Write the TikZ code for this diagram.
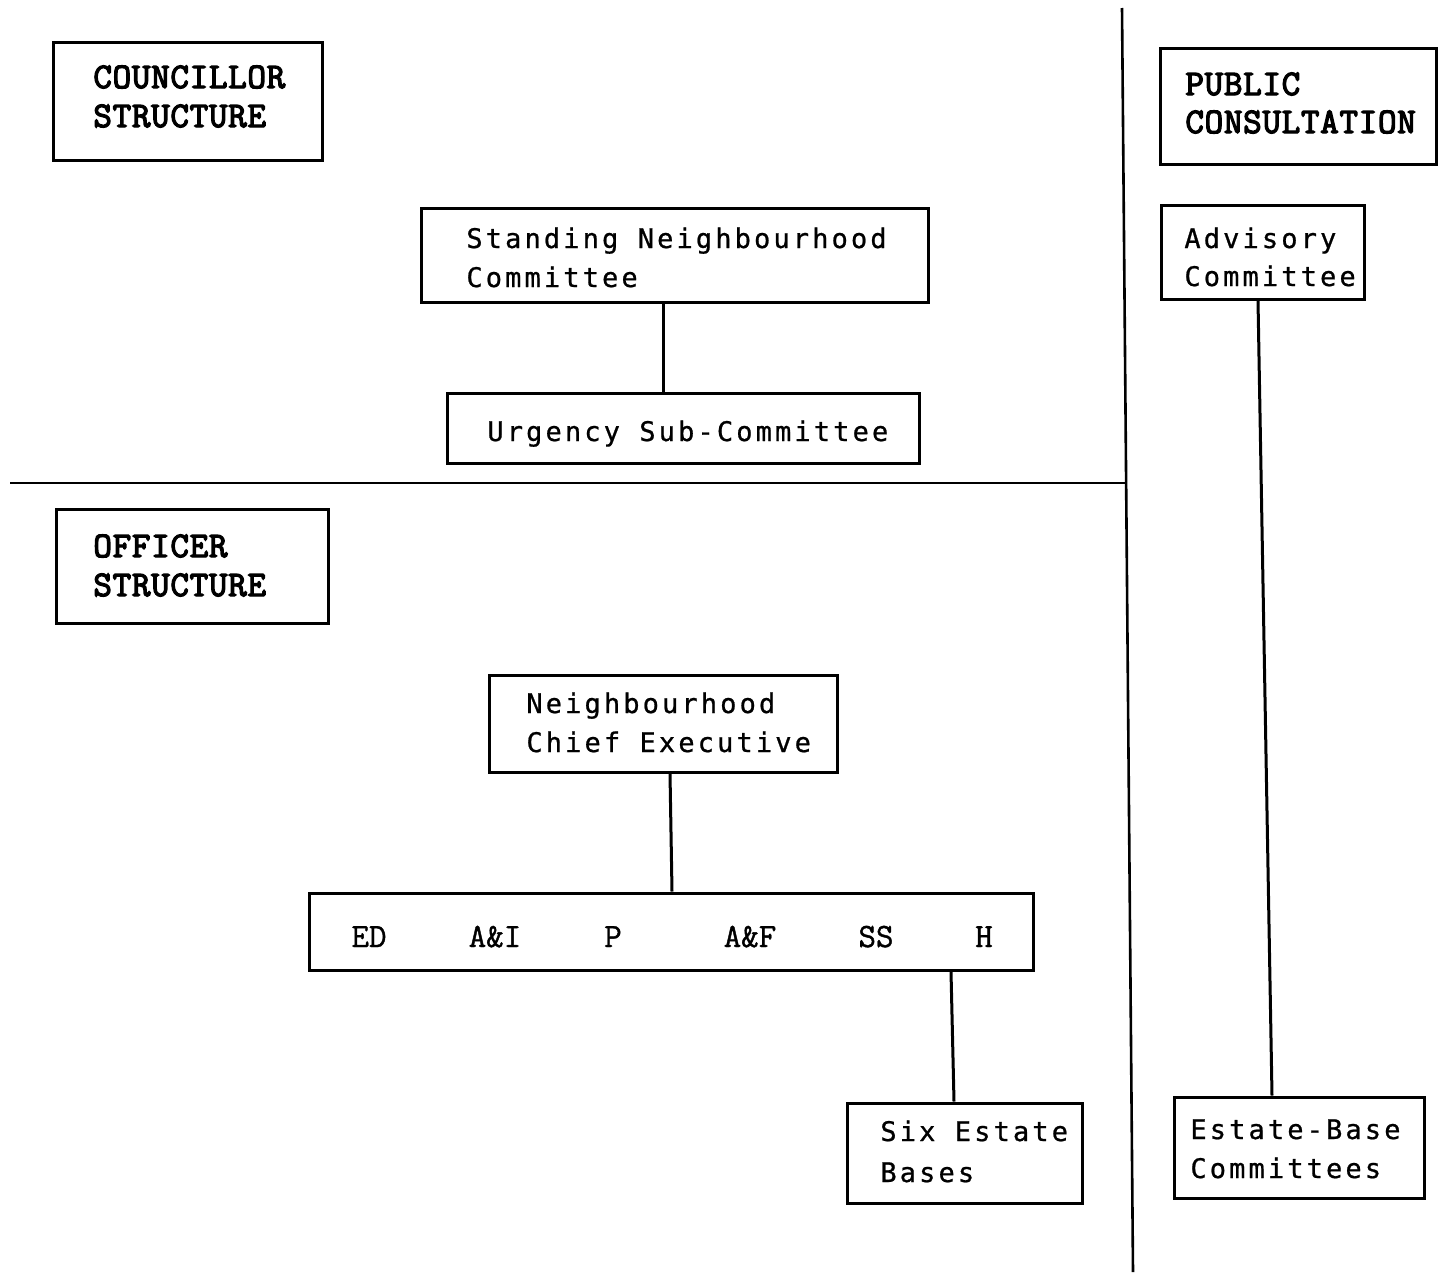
\documentclass[tikz,border=0pt]{standalone}
\usepackage{fontspec}
\newfontfamily\bodyfont[LetterSpace=11.6,FakeBold=0.8]{DejaVu Sans Mono}
\newfontfamily\headfont[LetterSpace=2,FakeBold=3.6]{Latin Modern Mono}
\newfontfamily\deptfont[FakeBold=1.2]{Latin Modern Mono}
\begin{document}
\begin{tikzpicture}[x=0.5pt,y=-0.5pt,
  box/.style={draw, line width=1.5pt, rectangle, inner sep=0pt},
  txt/.style={anchor=base west, inner sep=0pt, font=\bodyfont\fontsize{13.5}{16}\selectfont},
  head/.style={anchor=base west, inner sep=0pt, font=\headfont\fontsize{18}{20}\selectfont},
  dept/.style={anchor=base, inner sep=0pt, font=\deptfont\fontsize{17}{19}\selectfont},
  link/.style={line width=1.5pt},
  rule/.style={line width=1.3pt}]
\useasboundingbox (0,0) rectangle (1440,1274);

% dividing rules
\coordinate (vtop) at (1122,8);
\coordinate (vbot) at (1133,1272);
\coordinate (hl) at (10,483);
\coordinate (hr) at (1125,483);
\draw[rule] (vtop) -- (vbot);
\draw[rule] (hl) -- (hr);

% boxes
\node[box, minimum width=134.5pt, minimum height=59pt] (cs) at (187.5,101) {};
\node[box, minimum width=138pt, minimum height=58pt] (pc) at (1298,106) {};
\node[box, minimum width=253.5pt, minimum height=47pt] (snc) at (674.5,255) {};
\node[box, minimum width=236pt, minimum height=35pt] (usc) at (683,428) {};
\node[box, minimum width=136pt, minimum height=57pt] (os) at (192,566) {};
\node[box, minimum width=101.5pt, minimum height=47pt] (adv) at (1262.5,252) {};
\node[box, minimum width=125pt, minimum height=50.5pt] (ebc) at (1299,1147.5) {};
\node[box, minimum width=174pt, minimum height=48.5pt] (nce) at (663,723.5) {};
\node[box, minimum width=362pt, minimum height=38.5pt] (dept) at (671,931.5) {};
\node[box, minimum width=117.5pt, minimum height=50pt] (six) at (964.5,1153) {};

% box texts
\node[head] (cs1) at (93,88) {COUNCILLOR};
\node[head] (cs2) at (93,127) {STRUCTURE};
\node[head] (pc1) at (1185,95) {PUBLIC};
\node[head] (pc2) at (1185,133) {CONSULTATION};
\node[head] (os1) at (93,557) {OFFICER};
\node[head] (os2) at (93,596) {STRUCTURE};

\node[txt] (snc1) at (466,248) {Standing Neighbourhood};
\node[txt] (snc2) at (466,287) {Committee};
\node[txt] (usc1) at (487,441) {Urgency Sub-Committee};
\node[txt] (adv1) at (1184,248) {Advisory};
\node[txt] (adv2) at (1184,286) {Committee};
\node[txt] (nce1) at (526,713) {Neighbourhood};
\node[txt] (nce2) at (526,752) {Chief Executive};
\node[txt] (six1) at (880,1141) {Six Estate};
\node[txt] (six2) at (880,1182) {Bases};
\node[txt] (ebc1) at (1190,1139) {Estate-Base};
\node[txt] (ebc2) at (1190,1178) {Committees};

\node[dept] (ed) at (369,947) {ED};
\node[dept] (ai) at (495,947) {A\&I};
\node[dept] (p)  at (613,947) {P};
\node[dept] (af) at (750,947) {A\&F};
\node[dept] (ss) at (876,947) {SS};
\node[dept] (h)  at (984,947) {H};

% connectors
\draw[link] ([xshift=-5.75pt]snc.south) -- ([xshift=-10pt]usc.north);
\draw[link] ([xshift=-2.25pt]adv.south) -- ([xshift=-13.5pt]ebc.north);
\draw[link] ([xshift=3.5pt]nce.south) -- ([xshift=0.5pt]dept.north);
\draw[link] ([xshift=140pt]dept.south) -- ([xshift=-5.25pt]six.north);
\end{tikzpicture}
\end{document}
